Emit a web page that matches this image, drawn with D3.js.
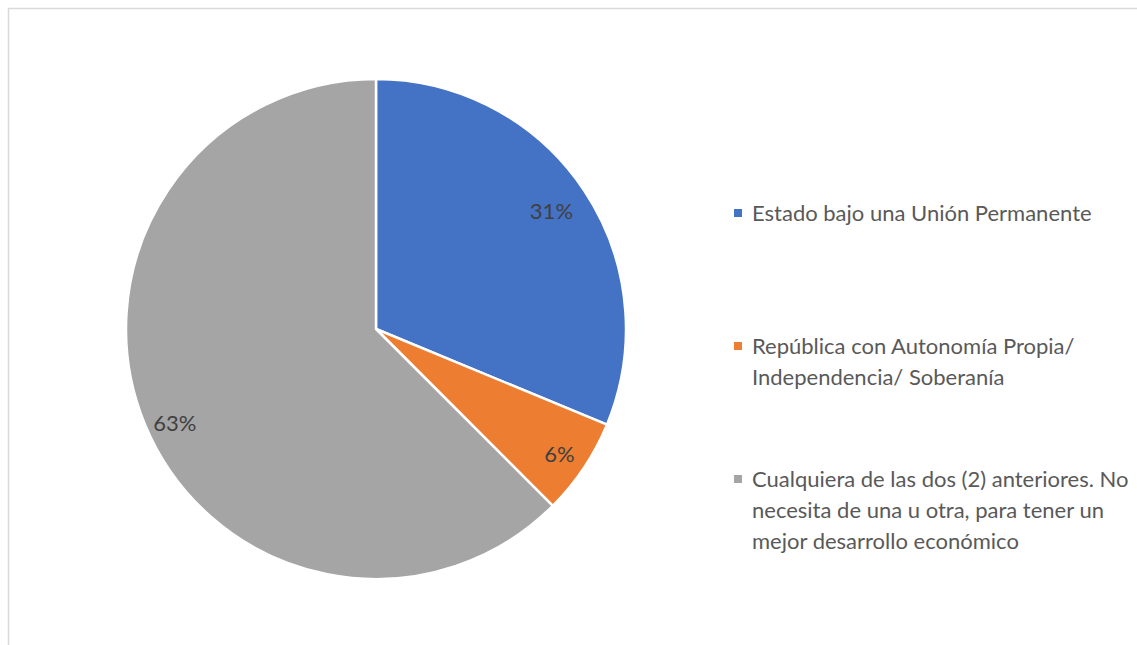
<!DOCTYPE html>
<html>
<head>
<meta charset="utf-8">
<script src="https://cdn.jsdelivr.net/npm/d3@7"></script>
<style>
  body { margin: 0; background: #fff; }
  svg text { font-family: Lato, "Open Sans", sans-serif; }
</style>
</head>
<body>
<div id="chart"></div>
<script>
const categories = [
  "Estado bajo una Unión Permanente",
  "República con Autonomía Propia/ Independencia/ Soberanía",
  "Cualquiera de las dos (2) anteriores. No necesita de una u otra, para tener un mejor desarrollo económico"
];
const values = [31.25, 6.25, 62.5];
const colors = ["#4472c4", "#ed7d31", "#a5a5a5"];
// texto de la leyenda partido en líneas como en el original
const legendLines = [
  ["Estado bajo una Unión Permanente"],
  ["República con Autonomía Propia/", "Independencia/ Soberanía"],
  ["Cualquiera de las dos (2) anteriores. No", "necesita de una u otra, para tener un", "mejor desarrollo económico"]
];

const width = 1137;
const height = 645;
const radius = 250;
const cx = 376, cy = 329;

const svg = d3.select("#chart")
  .append("svg")
  .attr("width", width)
  .attr("height", height);

// borde del área del gráfico
svg.append("rect")
  .attr("x", 8.5)
  .attr("y", 8.5)
  .attr("width", width + 20)
  .attr("height", height + 20)
  .attr("fill", "none")
  .attr("stroke", "#d9d9d9")
  .attr("stroke-width", 1.5);

const data = categories.map((c, i) => ({ cat: c, value: values[i], color: colors[i], lines: legendLines[i] }));

const pie = d3.pie().value(d => d.value).sort(null);
const arc = d3.arc().innerRadius(0).outerRadius(radius);
// radio de etiquetas por sector (estilo "ajuste óptimo" de Excel)
const labelRadius = [211, 222, 222];
const labelAngleShift = [0, 0.01, -0.045];

const g = svg.append("g").attr("transform", `translate(${cx},${cy})`);

const arcs = pie(data);

g.selectAll("path")
  .data(arcs)
  .enter()
  .append("path")
  .attr("d", arc)
  .attr("fill", d => d.data.color)
  .attr("stroke", "#fff")
  .attr("stroke-width", 2.5)
  .attr("stroke-linejoin", "round");

g.selectAll("text.lbl")
  .data(arcs)
  .enter()
  .append("text")
  .attr("class", "lbl")
  .attr("transform", (d, i) => {
    const a = (d.startAngle + d.endAngle) / 2 + labelAngleShift[i];
    const r = labelRadius[i];
    return `translate(${r * Math.sin(a)},${-r * Math.cos(a)})`;
  })
  .attr("text-anchor", "middle")
  .attr("dy", "0.35em")
  .attr("fill", "#404040")
  .style("font-size", "22px")
  .text(d => Math.round(d.value) + "%");

// leyenda
const legendY = [213, 346, 479];
const lineH = 31;
const legend = svg.append("g");

data.forEach((d, i) => {
  legend.append("rect")
    .attr("x", 734)
    .attr("y", legendY[i] - 4)
    .attr("width", 8)
    .attr("height", 8)
    .attr("fill", d.color);
  const t = legend.append("text")
    .attr("x", 752)
    .attr("y", legendY[i])
    .attr("fill", "#595959")
    .style("font-size", "22px");
  d.lines.forEach((line, j) => {
    t.append("tspan")
      .attr("x", 752)
      .attr("y", legendY[i] + j * lineH)
      .attr("dy", "0.35em")
      .text(line);
  });
});
</script>
</body>
</html>
